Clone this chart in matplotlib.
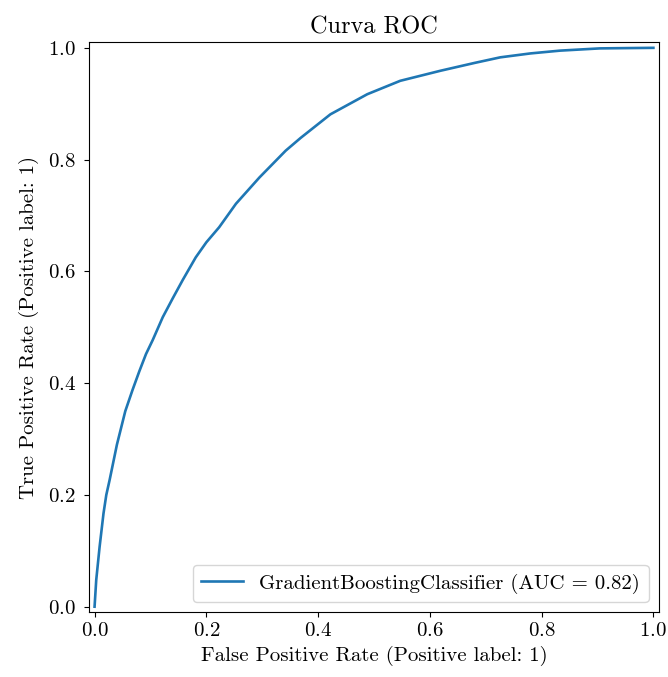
import matplotlib
matplotlib.use("Agg")
import matplotlib.pyplot as plt

# ROC curve points
fpr = [0.0, 0.003, 0.009, 0.016, 0.021, 0.027, 0.040, 0.055, 0.068, 0.080,
       0.092, 0.104, 0.122, 0.140, 0.158, 0.181, 0.200, 0.223, 0.253, 0.295,
       0.342, 0.369, 0.422, 0.488, 0.547, 0.619, 0.680, 0.726, 0.780, 0.833,
       0.904, 0.950, 1.0]
tpr = [0.0, 0.048, 0.107, 0.167, 0.200, 0.227, 0.290, 0.350, 0.388, 0.421,
       0.452, 0.477, 0.518, 0.552, 0.585, 0.625, 0.652, 0.679, 0.721, 0.768,
       0.816, 0.839, 0.881, 0.917, 0.941, 0.959, 0.973, 0.983, 0.990, 0.995,
       0.999, 0.9995, 1.0]
model_name = "GradientBoostingClassifier"
auc = 0.82
ticks = [0.0, 0.2, 0.4, 0.6, 0.8, 1.0]

plt.rcParams["font.family"] = "cmr10"
plt.rcParams["axes.formatter.use_mathtext"] = True
plt.rcParams["mathtext.fontset"] = "cm"

fig = plt.figure(figsize=(6.68, 6.77), dpi=100)
ax = fig.add_axes([0.1332, 0.0956, 0.8533, 0.842])

ax.plot(fpr, tpr, color="#1f77b4", linewidth=1.9,
        label=f"{model_name} (AUC = {auc:.2f})")

ax.set_xlim(-0.01, 1.01)
ax.set_ylim(-0.01, 1.01)
ax.set_xticks(ticks)
ax.set_yticks(ticks)
ax.tick_params(labelsize=15)
ax.tick_params(axis="y", pad=6)
ax.set_xlabel("False Positive Rate (Positive label: 1)", fontsize=15)
ax.set_ylabel("True Positive Rate (Positive label: 1)", fontsize=15, labelpad=6)
ax.set_title("Curva ROC", fontsize=17.5)
ax.legend(loc="lower right", fontsize=15)

fig.savefig("out.png", dpi=100)
